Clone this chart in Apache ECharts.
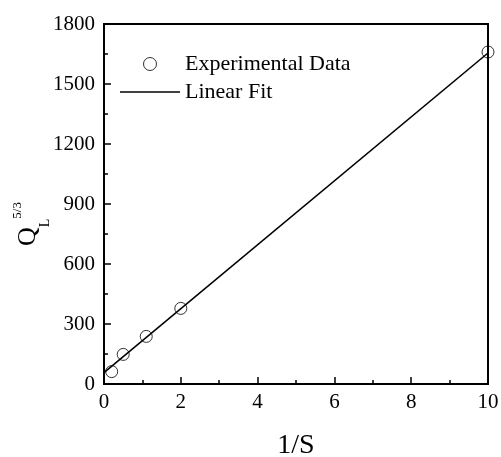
<!DOCTYPE html>
<html><head><meta charset="utf-8">
<script src="https://cdn.jsdelivr.net/npm/echarts@6/dist/echarts.min.js"></script>
<style>html,body{margin:0;padding:0;background:#fff}#c{width:501px;height:457px}</style>
</head><body><div id="c"></div>
<script>
var expX = [0.2, 0.5, 1.1, 2.0, 10.0];
var expY = [62, 148, 238, 378, 1660];
var fitX = [0, 10];
var fitY = [57, 1655];
var xTicks = [0, 2, 4, 6, 8, 10];
var yTicks = [0, 300, 600, 900, 1200, 1500, 1800];
var seriesNames = ['Experimental Data', 'Linear Fit'];

var F = '"Liberation Serif", "DejaVu Serif", serif';
var chart = echarts.init(document.getElementById('c'), null, {renderer: 'canvas'});
var axisCommon = {
  axisLine: {show: true, onZero: false, lineStyle: {color: '#000', width: 2}},
  axisTick: {show: true, inside: true, length: 7, lineStyle: {color: '#000', width: 1.5}},
  minorTick: {show: true, splitNumber: 2, length: 4, lineStyle: {color: '#000', width: 1.5}},
  splitLine: {show: false},
  axisLabel: {color: '#000', fontFamily: F, fontSize: 21, formatter: function (v) { return String(v); }}
};
chart.setOption({
  animation: false,
  backgroundColor: '#fff',
  grid: {left: 104, right: 13, top: 24, bottom: 73, show: true, borderColor: '#000', borderWidth: 2,
         containLabel: false, outerBoundsMode: 'none'},
  legend: {
    orient: 'vertical', left: 120, top: 53, padding: 0, itemWidth: 60, itemHeight: 13, itemGap: 6,
    textStyle: {fontFamily: F, fontSize: 22, color: '#000', lineHeight: 22},
    data: [
      {name: seriesNames[0], icon: 'circle', itemStyle: {color: 'rgba(255,255,255,0)', borderColor: '#000', borderWidth: 1}},
      {name: seriesNames[1], icon: 'path://M0,0H60V1.6H0Z', itemStyle: {color: '#000', borderWidth: 0}}
    ]
  },
  xAxis: Object.assign({}, axisCommon, {
    type: 'value', min: xTicks[0], max: xTicks[xTicks.length - 1], interval: 2,
    name: '1/S', nameLocation: 'middle', nameGap: 48, nameMoveOverlap: false,
    nameTextStyle: {fontFamily: F, fontSize: 28, color: '#000'},
    axisLabel: Object.assign({}, axisCommon.axisLabel, {margin: 8})
  }),
  yAxis: Object.assign({}, axisCommon, {
    type: 'value', min: yTicks[0], max: yTicks[yTicks.length - 1], interval: 300,
    name: '{q|Q}{sub|L}{sup|5/3}', nameLocation: 'middle', nameRotate: 90, nameGap: 52, nameMoveOverlap: false,
    nameTextStyle: {
      fontFamily: F, color: '#000', lineHeight: 48, padding: [0, 40, 0, 0],
      rich: {
        q: {fontFamily: F, fontSize: 26, color: '#000', lineHeight: 48, verticalAlign: 'middle'},
        sub: {fontFamily: F, fontSize: 14, color: '#000', lineHeight: 14, verticalAlign: 'bottom'},
        sup: {fontFamily: F, fontSize: 13, color: '#000', lineHeight: 13, verticalAlign: 'middle', padding: [0, 0, 20, 0]}
      }
    },
    axisLabel: Object.assign({}, axisCommon.axisLabel, {margin: 9})
  }),
  series: [
    {
      name: seriesNames[0], type: 'scatter', symbol: 'circle', symbolSize: 12, z: 3,
      itemStyle: {color: 'rgba(255,255,255,0)', borderColor: '#000', borderWidth: 1},
      data: expX.map(function (x, i) { return [x, expY[i]]; })
    },
    {
      name: seriesNames[1], type: 'line', symbol: 'none', showSymbol: false, z: 2,
      lineStyle: {color: '#000', width: 1.6},
      itemStyle: {color: '#000'},
      data: fitX.map(function (x, i) { return [x, fitY[i]]; })
    }
  ]
});
</script></body></html>
